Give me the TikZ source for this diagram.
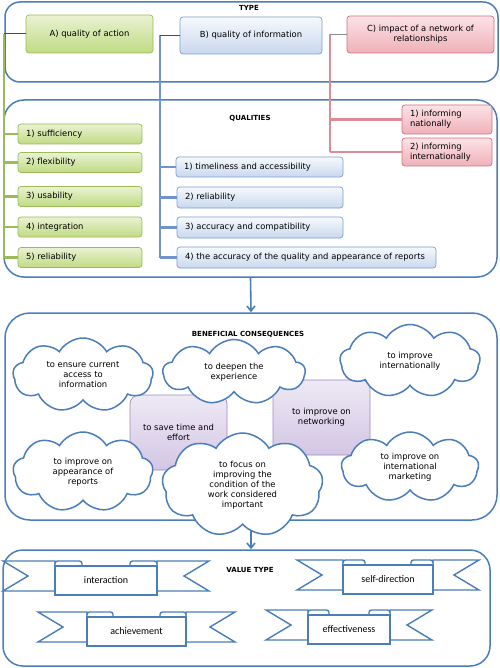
\documentclass[tikz,border=0pt]{standalone}
\usepackage{fontspec}
\setmainfont{DejaVu Sans}
\newfontfamily\ribfont{Carlito}
\usetikzlibrary{shapes.symbols,arrows.meta}
\definecolor{pblue}{HTML}{4A7EBB}
\definecolor{gtop}{HTML}{EAF2D3}
\definecolor{gbot}{HTML}{C0DA83}
\definecolor{gedge}{HTML}{9BBB59}
\definecolor{btop}{HTML}{F6F9FD}
\definecolor{bbot}{HTML}{C9D8EE}
\definecolor{bedge}{HTML}{7E9FD0}
\definecolor{rtop}{HTML}{FBE3E6}
\definecolor{rbot}{HTML}{EFB0B8}
\definecolor{redge}{HTML}{D4707E}
\definecolor{vtop}{HTML}{EEE9F5}
\definecolor{vbot}{HTML}{D3C6E4}
\definecolor{vedge}{HTML}{9F8AC0}
\definecolor{btrunk}{HTML}{6F94CB}
\definecolor{rtrunk}{HTML}{E08A95}
\tikzset{
 panel/.style={draw=pblue, line width=1.5pt, fill=white, inner sep=0pt},
 ptitle/.style={font=\bfseries\fontsize{7}{8}\selectfont, inner sep=0pt},
 boxtxt/.style={font=\fontsize{8.4}{10}\selectfont, inner sep=0pt, line width=0.7pt, rounded corners=3pt},
 gbox/.style={boxtxt, draw=gedge, top color=gtop, bottom color=gbot},
 bbox/.style={boxtxt, draw=bedge, top color=btop, bottom color=bbot},
 rbox/.style={boxtxt, draw=redge, top color=rtop, bottom color=rbot},
 vbox/.style={boxtxt, draw=vedge, top color=vtop, bottom color=vbot, rounded corners=9pt, align=center},
 litem/.style={align=left, inner xsep=8pt, text width=#1},
 cbox/.style={align=center},
 gline/.style={draw=gedge, line width=2.4pt},
 bline/.style={draw=btrunk, line width=2.4pt},
 rline/.style={draw=rtrunk, line width=2.4pt},
 tie/.style={draw=black!70, line width=1pt},
 bubble/.style={cloud, cloud puffs=9, cloud puff arc=120, cloud ignores aspect, draw=pblue, line width=1.5pt, fill=white, align=center, font=\fontsize{8.4}{10}\selectfont, inner sep=0pt},
 arr/.style={draw=pblue, line width=1.6pt, -{Straight Barb[length=5pt,width=8pt]}},
 rib/.style={draw=pblue, line width=1.4pt, fill=white, line join=miter},
 ribc/.style={rib, inner sep=0pt, font=\ribfont\fontsize{10}{11}\selectfont},
}
\newcommand\ribbonfig[7]{%
 \pgfmathsetmacro\rbL{#2-#3-#4}%
 \pgfmathsetmacro\rbR{#2+#3+#4}%
 \pgfmathsetmacro\rbcA{#2-#3}%
 \pgfmathsetmacro\rbcB{#2+#3}%
 \pgfmathsetmacro\rbfA{#2-#3+#5}%
 \pgfmathsetmacro\rbfB{#2+#3-#5}%
 \pgfmathsetmacro\rbT{#6}%
 \pgfmathsetmacro\rbB{#6+30}%
 \pgfmathsetmacro\rbM{#6+15}%
 \pgfmathsetmacro\rbcT{#6+9}%
 \pgfmathsetmacro\rbcM{#6+19.5}%
 \draw[rib] (\rbL,\rbT) -- (\rbcA,\rbT) -- (\rbcA,\rbB) -- (\rbL,\rbB) -- ({\rbL+25},\rbM) -- cycle;
 \draw[rib] (\rbR,\rbT) -- (\rbcB,\rbT) -- (\rbcB,\rbB) -- (\rbR,\rbB) -- ({\rbR-25},\rbM) -- cycle;
 \draw[rib, rounded corners=2.5pt] (\rbcA,\rbcT) -- (\rbcA,\rbT) -- (\rbfA,\rbT) -- (\rbfA,\rbcT);
 \draw[rib, rounded corners=2.5pt] (\rbcB,\rbcT) -- (\rbcB,\rbT) -- (\rbfB,\rbT) -- (\rbfB,\rbcT);
 \node[ribc, minimum width={2*#3}, minimum height=29pt] (#1) at (#2,\rbcM) {#7};
}
\begin{document}
\begin{tikzpicture}[x=1pt,y=-1pt]
\useasboundingbox (0,0) rectangle (499,668);
% panels
\node[panel, rounded corners=15pt, minimum width=493pt, minimum height=80pt] (type) at (251.5,42) {};
\node[panel, rounded corners=20pt, minimum width=493pt, minimum height=177pt] (qual) at (250.5,188.5) {};
\node[panel, rounded corners=25pt, minimum width=492pt, minimum height=207pt] (benef) at (251,416.5) {};
\node[panel, rounded corners=20pt, minimum width=487pt, minimum height=116pt] (valp) at (246.5,608) {};
\node[ptitle] (ttype) at (249,8) {TYPE};
\node[ptitle] (tqual) at (250,118) {QUALITIES};
\node[ptitle] (tbenef) at (248,334) {BENEFICIAL CONSEQUENCES};
\node[ptitle] (tval) at (250,570) {VALUE TYPE};
% arrows between panels
\draw[arr] (qual.south) -- (benef.north);
\draw[arr] (benef.south) -- (benef.south |- valp.north);
% trunk coordinates
\coordinate (gx) at (4,0);
\coordinate (bx) at (160,0);
\coordinate (rx) at (330,0);
% type boxes
\node[gbox, cbox, minimum width=127pt, minimum height=38pt] (A) at (89.5,34) {A) quality of action};
\node[bbox, cbox, minimum width=142pt, minimum height=37pt] (B) at (251,35.5) {B) quality of information};
\node[rbox, cbox, minimum width=147pt, minimum height=37pt] (C) at (420.5,34.5) {C) impact of a network of\\relationships};
% green items
\node[gbox, litem=108pt, minimum height=20pt] (g1) at (80,134) {1) sufficiency};
\node[gbox, litem=108pt, minimum height=20pt] (g2) at (80,162.5) {2) flexibility};
\node[gbox, litem=108pt, minimum height=20pt] (g3) at (80,196.5) {3) usability};
\node[gbox, litem=108pt, minimum height=20pt] (g4) at (80,227) {4) integration};
\node[gbox, litem=108pt, minimum height=20pt] (g5) at (80,257.5) {5) reliability};
% blue items
\node[bbox, litem=151pt, minimum height=20pt] (b1) at (259.5,167) {1) timeliness and accessibility};
\node[bbox, litem=150pt, minimum height=21pt] (b2) at (260,197.5) {2) reliability};
\node[bbox, litem=150pt, minimum height=21pt] (b3) at (260,227.5) {3) accuracy and compatibility};
\node[bbox, litem=243pt, minimum height=21pt] (b4) at (306.5,257.5) {4) the accuracy of the quality and appearance of reports};
% red items
\node[rbox, litem=74pt, minimum height=29pt] (r1) at (447,119.5) {1) informing\\nationally};
\node[rbox, litem=74pt, minimum height=28pt] (r2) at (447,152) {2) informing\\internationally};
% connectors
\draw[gline] (gx |- A.west) -- (gx |- g5.west);
\foreach \i in {1,...,5} \draw[gline] (gx |- g\i.west) -- (g\i.west);
\draw[tie] (A.west) -- (gx |- A.west);
\draw[bline] (bx |- B.west) -- (bx |- b4.west);
\foreach \i in {1,...,4} \draw[bline] (bx |- b\i.west) -- (b\i.west);
\draw[tie] (B.west) -- (bx |- B.west);
\draw[rline] (rx |- C.west) -- (rx |- r2.west);
\foreach \i in {1,2} \draw[rline] (rx |- r\i.west) -- (r\i.west);
\draw[tie, draw=black!45] (C.west) -- (rx |- C.west);
% beneficial consequences
\node[vbox, minimum width=97pt, minimum height=75pt] (p1) at (178.5,432.5) {to save time and\\effort};
\node[vbox, minimum width=97pt, minimum height=75pt] (p2) at (321.5,417.5) {to improve on\\networking};
\node[bubble, minimum width=140pt, minimum height=74pt] (c1) at (83,375) {to ensure current\\access to\\information};
\node[bubble, minimum width=142pt, minimum height=65pt] (c2) at (234,372) {to deepen the\\experience};
\node[bubble, minimum width=140pt, minimum height=73pt] (c3) at (410,361) {to improve\\internationally};
\node[bubble, minimum width=140pt, minimum height=80pt] (c4) at (83,472) {to improve on\\appearance of\\reports};
\node[bubble, minimum width=137pt, minimum height=70pt] (c6) at (410,467) {to improve on\\international\\marketing};
\node[bubble, minimum width=161pt, minimum height=104pt] (c5) at (242.5,485) {to focus on\\improving the\\condition of the\\work considered\\important};
% value type ribbons
\ribbonfig{v1}{106}{51}{52}{27}{561}{interaction}
\ribbonfig{v2}{136.5}{49.5}{49}{26}{612}{achievement}
\ribbonfig{v3}{388}{45}{46}{22}{560}{self-direction}
\ribbonfig{v4}{349}{41}{42}{21}{610}{effectiveness}
\end{tikzpicture}
\end{document}
